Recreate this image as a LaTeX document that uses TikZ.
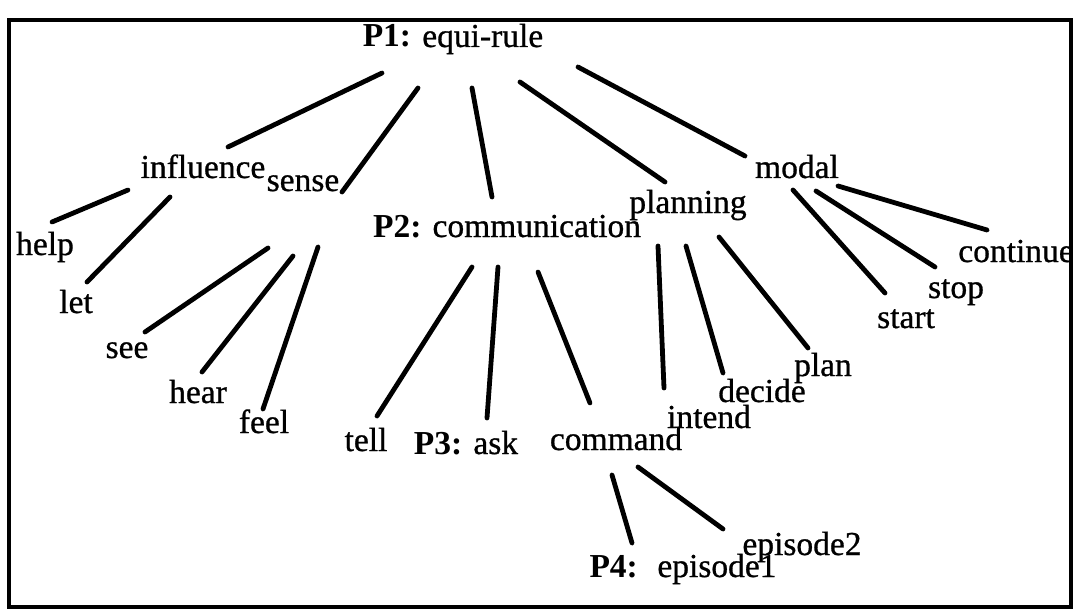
\documentclass[tikz,border=0pt]{standalone}
\usepackage{fontspec}
\setmainfont{Liberation Serif}[UprightFeatures={FakeBold=0.8}]
\begin{document}
\begin{tikzpicture}[x=1pt,y=-1pt,
  lbl/.style={inner sep=0pt, anchor=base, font=\fontsize{33.5}{38}\selectfont},
  edge/.style={line width=4.8pt, line cap=round},
  frame/.style={line width=3.6pt, line join=miter}]
\useasboundingbox (0,0) rectangle (1074,615);

% labels (placed by baseline centre)
\node[lbl] (p1)    at (453,47)  {\textbf{P1:} equi-rule};
\node[lbl] (infl)  at (203,178) {influence};
\node[lbl] (help)  at (45,255)  {help};
\node[lbl] (let)   at (76,313)  {let};
\node[lbl] (sense) at (303,191) {sense};
\node[lbl] (see)   at (127,358) {see};
\node[lbl] (hear)  at (198,403) {hear};
\node[lbl] (feel)  at (264,433) {feel};
\node[lbl] (p2)    at (507,237) {\textbf{P2:} communication};
\node[lbl] (tell)  at (366,451) {tell};
\node[lbl] (p3)    at (466,454) {\textbf{P3:} ask};
\node[lbl] (cmd)   at (616,450) {command};
\node[lbl] (plang) at (688,213) {planning};
\node[lbl] (intend) at (709,428) {intend};
\node[lbl] (decide) at (762,402) {decide};
\node[lbl] (plan)  at (823,376) {plan};
\node[lbl] (modal) at (797,178) {modal};
\node[lbl] (cont)  at (1016,262) {continue};
\node[lbl] (stop)  at (956,298) {stop};
\node[lbl] (start) at (906,328) {start};
\node[lbl] (ep2)   at (802,555) {episode2};
\node[lbl] (p4)    at (683,577) {\textbf{P4:}~ episode1};

% connector ends
\coordinate (p1-infl)  at (382,73);  \coordinate (infl-p1)  at (228,147);
\coordinate (p1-sense) at (418,88);  \coordinate (sense-p1) at (342,192);
\coordinate (p1-p2)    at (472,88);  \coordinate (p2-p1)    at (492,197);
\coordinate (p1-plang) at (520,82);  \coordinate (plang-p1) at (665,182);
\coordinate (p1-modal) at (578,67);  \coordinate (modal-p1) at (745,156);

\coordinate (infl-help) at (128,190); \coordinate (help-infl) at (52,222);
\coordinate (infl-let)  at (170,197); \coordinate (let-infl)  at (87,282);

\coordinate (sense-see)  at (268,248); \coordinate (see-sense)  at (145,332);
\coordinate (sense-hear) at (293,256); \coordinate (hear-sense) at (202,372);
\coordinate (sense-feel) at (318,247); \coordinate (feel-sense) at (263,409);

\coordinate (p2-tell) at (472,267); \coordinate (tell-p2) at (377,416);
\coordinate (p2-p3)   at (498,267); \coordinate (p3-p2)   at (487,418);
\coordinate (p2-cmd)  at (538,272); \coordinate (cmd-p2)  at (590,403);

\coordinate (plang-intend) at (658,246); \coordinate (intend-plang) at (664,388);
\coordinate (plang-decide) at (686,246); \coordinate (decide-plang) at (723,373);
\coordinate (plang-plan)   at (719,237); \coordinate (plan-plang)   at (808,348);

\coordinate (modal-start) at (793,190); \coordinate (start-modal) at (885,293);
\coordinate (modal-stop)  at (816,191); \coordinate (stop-modal)  at (935,267);
\coordinate (modal-cont)  at (838,186); \coordinate (cont-modal)  at (987,230);

\coordinate (cmd-p4)  at (612,475); \coordinate (p4-cmd)  at (632,543);
\coordinate (cmd-ep2) at (638,467); \coordinate (ep2-cmd) at (723,529);

% connectors
\draw[edge] (p1-infl) -- (infl-p1);
\draw[edge] (p1-sense) -- (sense-p1);
\draw[edge] (p1-p2) -- (p2-p1);
\draw[edge] (p1-plang) -- (plang-p1);
\draw[edge] (p1-modal) -- (modal-p1);
\draw[edge] (infl-help) -- (help-infl);
\draw[edge] (infl-let) -- (let-infl);
\draw[edge] (sense-see) -- (see-sense);
\draw[edge] (sense-hear) -- (hear-sense);
\draw[edge] (sense-feel) -- (feel-sense);
\draw[edge] (p2-tell) -- (tell-p2);
\draw[edge] (p2-p3) -- (p3-p2);
\draw[edge] (p2-cmd) -- (cmd-p2);
\draw[edge] (plang-intend) -- (intend-plang);
\draw[edge] (plang-decide) -- (decide-plang);
\draw[edge] (plang-plan) -- (plan-plang);
\draw[edge] (modal-start) -- (start-modal);
\draw[edge] (modal-stop) -- (stop-modal);
\draw[edge] (modal-cont) -- (cont-modal);
\draw[edge] (cmd-p4) -- (p4-cmd);
\draw[edge] (cmd-ep2) -- (ep2-cmd);

% outer frame
\fill[white] (1071,20) rectangle (1074,607);
\draw[frame] (9,20) rectangle (1071,607);
\end{tikzpicture}
\end{document}
